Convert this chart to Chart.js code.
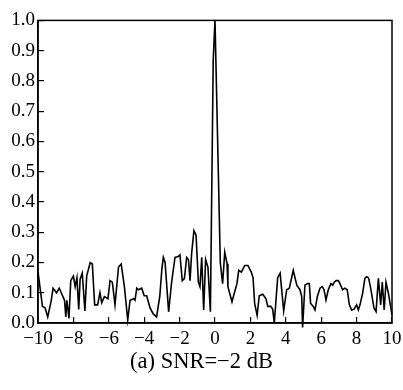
<!DOCTYPE html>
<html>
<head>
<meta charset="utf-8">
<script src="https://cdn.jsdelivr.net/npm/chart.js@4/dist/chart.umd.min.js"></script>
<style>
  html, body { margin: 0; padding: 0; background: #fff; }
  #wrap { position: relative; width: 403px; height: 390px; }
  #caption { position: absolute; left: 0; width: 403px; top: 348px; text-align: center;
    font-family: "Liberation Serif", serif; font-size: 22.5px; color: #000; }
</style>
</head>
<body>
<div id="wrap">
  <canvas id="myChart" width="403" height="390"></canvas>
  <div id="caption">(a) SNR=−2 dB</div>
</div>
<script>
// signal values (x in units, y normalised)
const xVals = [-10.0,-9.75,-9.6,-9.45,-9.25,-9.15,-8.95,-8.8,-8.65,-8.5,-8.43,-8.37,-8.25,-8.15,-8.0,-7.9,-7.8,-7.7,-7.62,-7.5,
  -7.35,-7.25,-7.05,-6.93,-6.8,-6.63,-6.5,-6.4,-6.25,-6.05,-5.93,-5.8,-5.65,-5.45,-5.3,-5.12,-4.93,-4.8,-4.6,-4.52,
  -4.42,-4.33,-4.14,-4.0,-3.86,-3.67,-3.49,-3.3,-3.12,-3.0,-2.92,-2.82,-2.62,-2.45,-2.26,-2.07,-1.98,-1.85,-1.73,-1.6,
  -1.5,-1.41,-1.32,-1.19,-1.07,-0.94,-0.85,-0.75,-0.64,-0.53,-0.4,-0.26,-0.1,0.0,0.3,0.43,0.55,0.68,0.73,0.96,
  1.05,1.24,1.34,1.49,1.68,1.86,2.05,2.15,2.24,2.38,2.5,2.7,2.88,2.98,3.15,3.26,3.35,3.54,3.68,3.88,
  4.05,4.2,4.42,4.62,4.8,4.9,4.95,5.08,5.22,5.33,5.4,5.55,5.65,5.78,5.93,6.06,6.16,6.27,6.4,6.55,
  6.65,6.74,6.84,6.97,7.06,7.21,7.34,7.47,7.59,7.72,7.85,8.0,8.1,8.19,8.34,8.47,8.57,8.68,8.81,8.98,
  9.1,9.23,9.36,9.45,9.56,9.66,9.79,10.0];
const yVals = [0.17,0.055,0.05,0.02,0.075,0.115,0.10,0.115,0.095,0.075,0.02,0.075,0.015,0.14,0.155,0.12,0.15,0.045,0.145,0.165,
  0.04,0.155,0.2,0.195,0.06,0.06,0.10,0.067,0.087,0.08,0.14,0.135,0.06,0.185,0.195,0.12,0.01,0.075,0.08,0.075,
  0.115,0.11,0.115,0.09,0.09,0.05,0.03,0.02,0.088,0.18,0.217,0.2,0.037,0.135,0.217,0.22,0.225,0.14,0.147,0.217,
  0.21,0.14,0.23,0.305,0.29,0.135,0.12,0.217,0.043,0.21,0.185,0.037,0.87,1.0,0.2,0.13,0.234,0.196,0.12,0.07,
  0.09,0.13,0.174,0.168,0.19,0.19,0.168,0.15,0.065,0.025,0.09,0.095,0.08,0.055,0.055,0.045,0.0,0.15,0.165,0.04,
  0.11,0.115,0.174,0.125,0.11,0.087,-0.015,0.125,0.13,0.13,0.065,0.055,0.043,0.087,0.115,0.12,0.11,0.076,0.11,0.13,
  0.125,0.135,0.14,0.14,0.13,0.11,0.115,0.11,0.06,0.043,0.045,0.06,0.043,0.06,0.098,0.148,0.153,0.148,0.11,0.05,
  0.038,0.148,0.06,0.135,0.043,0.135,0.1,0.027];

const X_MIN = -10, X_MAX = 10, X_STEP = 2;
const Y_MIN = 0, Y_MAX = 1.0, Y_STEP = 0.1;

const points = xVals.map((x, i) => ({x: x, y: yVals[i]}));

// box round the plot
const frame = {
  id: 'frame',
  afterDraw(chart) {
    const a = chart.chartArea, c = chart.ctx;
    c.save();
    c.strokeStyle = '#000';
    c.lineWidth = 1.5;
    c.strokeRect(a.left, a.top, a.right - a.left, a.bottom - a.top);
    c.restore();
  }
};

const FONT = {family: '"Liberation Serif", serif', size: 19};

new Chart(document.getElementById('myChart'), {
  type: 'line',
  data: {
    datasets: [{
      data: points,
      borderColor: '#000',
      borderWidth: 1.6,
      pointRadius: 0,
      tension: 0,
      clip: false
    }]
  },
  options: {
    responsive: false,
    animation: false,
    layout: {padding: {top: 18, right: 0, left: 0, bottom: 0}},
    plugins: {legend: {display: false}, tooltip: {enabled: false}},
    scales: {
      x: {
        type: 'linear',
        min: X_MIN, max: X_MAX,
        afterFit: s => { s.height = 67; s.paddingRight = 11; },
        border: {color: '#000', width: 1.5},
        grid: {drawOnChartArea: false, tickLength: -6, color: '#000', lineWidth: 1.2},
        ticks: {
          stepSize: X_STEP, color: '#000', font: FONT, padding: 11, maxRotation: 0,
          callback: v => String(v).replace('-', '\u2212')
        }
      },
      y: {
        min: Y_MIN, max: Y_MAX,
        afterFit: s => { s.width = 38; },
        border: {color: '#000', width: 1.5},
        grid: {drawOnChartArea: false, tickLength: -6, color: '#000', lineWidth: 1.2},
        ticks: {
          stepSize: Y_STEP, color: '#000', font: FONT, padding: 9,
          callback: v => v.toFixed(1)
        }
      }
    }
  },
  plugins: [frame]
});
</script>
</body>
</html>
